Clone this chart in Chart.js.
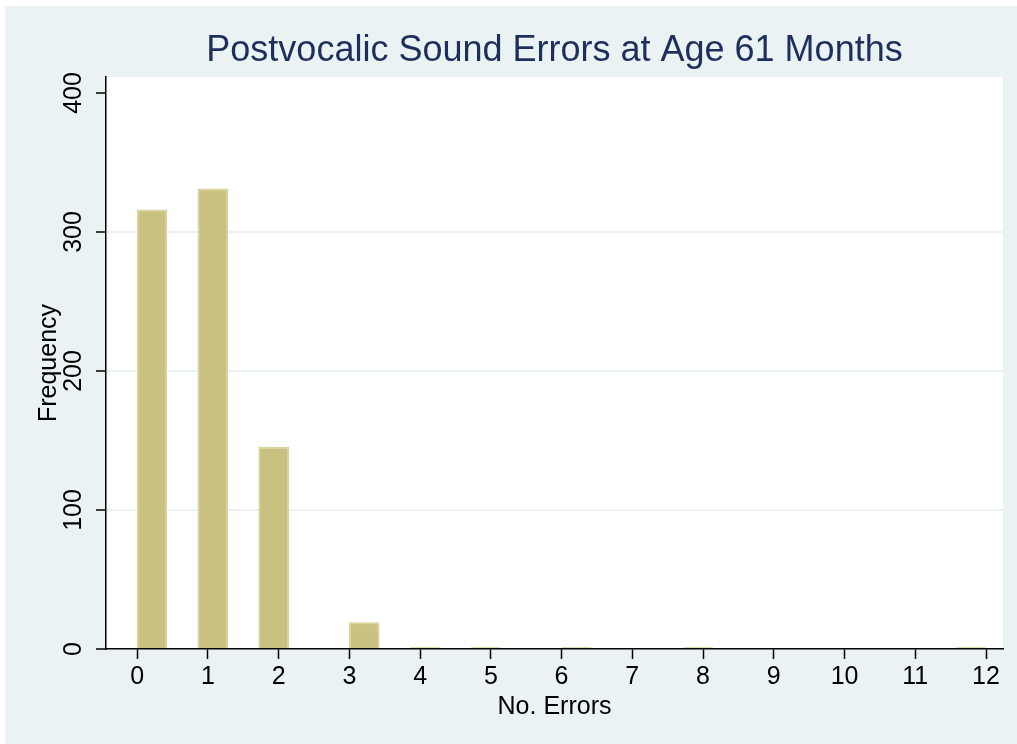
<!DOCTYPE html>
<html>
<head>
<meta charset="utf-8">
<script src="https://cdn.jsdelivr.net/npm/chart.js@4.4.1/dist/chart.umd.min.js"></script>
<style>
  html, body { margin: 0; padding: 0; background: #eaf2f3; }
  canvas { display: block; }
</style>
</head>
<body>
<canvas id="graph" width="1017" height="744"></canvas>
<script>
const errorBins = [0.21, 1.07, 1.93, 3.21, 4.07, 4.93, 6.21, 7.93, 11.79];
const frequency = [316, 331, 145, 19, 1, 1, 1, 1, 1];
const xTickValues = [0, 1, 2, 3, 4, 5, 6, 7, 8, 9, 10, 11, 12];
const yTickValues = [0, 100, 200, 300, 400];

const FONT = "'Liberation Sans', Arial, Helvetica, sans-serif";
const bgColor = '#eaf2f3';

// Fondo exterior azulado y zona del gráfico en blanco (estilo Stata s2color)
const fondo = {
  id: 'fondo',
  beforeDraw(chart) {
    const { ctx, chartArea: a, width, height } = chart;
    ctx.save();
    ctx.fillStyle = '#ffffff';
    ctx.fillRect(0, 0, width, height);
    ctx.fillStyle = bgColor;
    ctx.fillRect(5, 6, width - 5, height - 6);
    ctx.fillStyle = '#ffffff';
    ctx.fillRect(a.left, a.top, a.right - a.left, a.bottom - a.top);
    ctx.restore();
  }
};

const ctx = document.getElementById('graph').getContext('2d');
new Chart(ctx, {
  type: 'bar',
  data: {
    datasets: [{
      data: errorBins.map((x, i) => ({ x: x, y: frequency[i] })),
      backgroundColor: '#c8c17f',
      borderColor: '#dad4a3',
      borderWidth: 2,
      barThickness: 30
    }]
  },
  options: {
    responsive: false,
    devicePixelRatio: 1,
    animation: false,
    layout: { padding: { left: 0, right: 14, top: 0, bottom: 0 } },
    plugins: {
      legend: { display: false },
      tooltip: { enabled: false },
      title: {
        display: true,
        fullSize: false,
        text: 'Postvocalic Sound Errors at Age 61 Months',
        color: '#1e2f5b',
        font: { family: FONT, size: 36, weight: 'normal' },
        padding: { top: 29, bottom: 4.8 }
      }
    },
    scales: {
      x: {
        type: 'linear',
        min: -0.44,
        max: 12.24,
        offset: false,
        afterBuildTicks: s => { s.ticks = xTickValues.map(v => ({ value: v })); },
        afterFit: s => { s.height = 95; },
        grid: { drawOnChartArea: false, offset: false, tickLength: 10, tickColor: '#000', tickWidth: 1.5 },
        border: { color: '#000', width: 1.5 },
        ticks: { color: '#000', font: { family: FONT, size: 25 }, padding: 3, maxRotation: 0, autoSkip: false },
        title: {
          display: true, text: 'No. Errors', color: '#000',
          font: { family: FONT, size: 25 }, padding: { top: 0, bottom: 22 }
        }
      },
      y: {
        min: 0,
        max: 411.5,
        afterBuildTicks: s => { s.ticks = yTickValues.map(v => ({ value: v })); },
        afterFit: s => { s.width = 106; },
        grid: {
          color: c => (c.tick && (c.tick.value === 0 || c.tick.value === 400)) ? 'rgba(0,0,0,0)' : bgColor,
          lineWidth: 2,
          tickLength: 10,
          tickColor: '#000',
          tickWidth: 1.5
        },
        border: { color: '#000', width: 1.5 },
        ticks: {
          color: '#000', font: { family: FONT, size: 25 },
          minRotation: 90, maxRotation: 90, crossAlign: 'center', padding: 1
        },
        title: {
          display: true, text: 'Frequency', color: '#000',
          font: { family: FONT, size: 25 }, padding: { top: 34, bottom: 0 }
        }
      }
    }
  },
  plugins: [fondo]
});
</script>
</body>
</html>
